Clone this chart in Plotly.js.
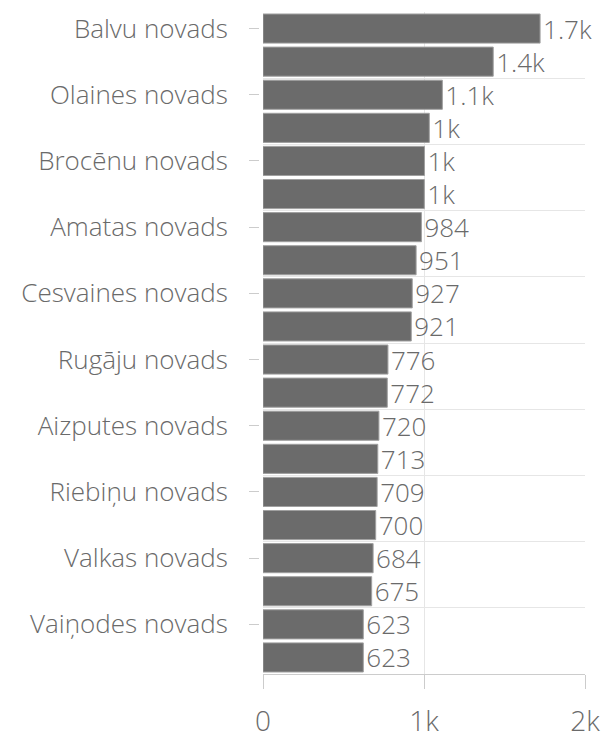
<!DOCTYPE html>
<html>
<head>
<meta charset="utf-8">
<script src="https://cdn.plot.ly/plotly-3.0.1.min.js"></script>
<style>html,body{margin:0;padding:0;background:#fff;}#chart{width:605px;height:738px;}</style>
</head>
<body>
<div id="chart"></div>
<script>
// Categories (top to bottom). Only every other name is visible in the chart.
var categories = [
  "Balvu novads", "Ludzas novads", "Olaines novads", "Ropažu novads",
  "Brocēnu novads", "Krāslavas novads", "Amatas novads", "Alūksnes novads",
  "Cesvaines novads", "Līvānu novads", "Rugāju novads", "Kandavas novads",
  "Aizputes novads", "Preiļu novads", "Riebiņu novads", "Dagdas novads",
  "Valkas novads", "Talsu novads", "Vaiņodes novads", "Saldus novads"
];
var values = [1721, 1430, 1114, 1033, 1003, 1002, 984, 951, 927, 921,
              776, 772, 720, 713, 709, 700, 684, 675, 623, 623];
var xTicks = [0, 1000, 2000];

function fmt(v) {
  if (v >= 1000) return (v / 1000).toFixed(1).replace(/\.0$/, '') + 'k';
  return String(v);
}
var labels = values.map(fmt);

var font = "'Open Sans', 'Segoe UI', sans-serif";
var textColor = '#6a6a6a';
var gridColor = '#e6e6e6';

var data = [
  {
    type: 'bar',
    orientation: 'h',
    x: values,
    y: categories,
    text: labels,
    textposition: 'outside',
    constraintext: 'none',
    cliponaxis: false,
    textfont: {family: font, size: 26, color: textColor, weight: 300},
    outsidetextfont: {family: font, size: 26, color: textColor, weight: 300},
    marker: {color: '#6b6b6b', line: {color: '#a0a0a0', width: 1}},
    hoverinfo: 'none'
  },
  {
    type: 'scatter', x: [], y: [], yaxis: 'y2', showlegend: false, hoverinfo: 'none'
  }
];

var W = 605, L = 240, R = 20;
var plotW = W - L - R;

var layout = {
  width: 605,
  height: 738,
  margin: {l: L, r: R, t: 12, b: 64, pad: 0},
  paper_bgcolor: '#ffffff',
  plot_bgcolor: '#ffffff',
  showlegend: false,
  bargap: 0.12,
  font: {family: font, color: textColor},
  xaxis: {
    domain: [(263 - L) / plotW, 1],
    range: [0, 2000],
    tickmode: 'array',
    tickvals: xTicks,
    tickformat: '~s',
    showgrid: true,
    gridcolor: gridColor,
    zeroline: false,
    showline: true,
    linecolor: '#cccccc',
    linewidth: 1,
    ticks: 'outside',
    ticklen: 14,
    tickcolor: '#cccccc',
    ticklabelstandoff: 8,
    tickfont: {family: font, size: 28, color: textColor, weight: 300},
    fixedrange: true
  },
  yaxis: {
    type: 'category',
    range: [categories.length - 0.5, -0.5],
    anchor: 'free',
    position: (259 - L) / plotW,
    tickmode: 'linear',
    tick0: 0,
    dtick: 2,
    ticks: 'outside',
    ticklen: 10,
    tickcolor: '#cccccc',
    showgrid: false,
    showline: false,
    zeroline: false,
    ticklabelstandoff: 16,
    tickfont: {family: font, size: 26, color: textColor, weight: 300},
    fixedrange: true
  },
  yaxis2: {
    overlaying: 'y',
    anchor: 'x',
    range: [categories.length - 0.5, -0.5],
    tickmode: 'linear',
    tick0: -0.5,
    dtick: 2,
    showgrid: true,
    gridcolor: gridColor,
    showticklabels: false,
    ticks: '',
    zeroline: false,
    showline: false,
    fixedrange: true
  }
};

Plotly.newPlot('chart', data, layout, {staticPlot: true, displayModeBar: false});
</script>
</body>
</html>
